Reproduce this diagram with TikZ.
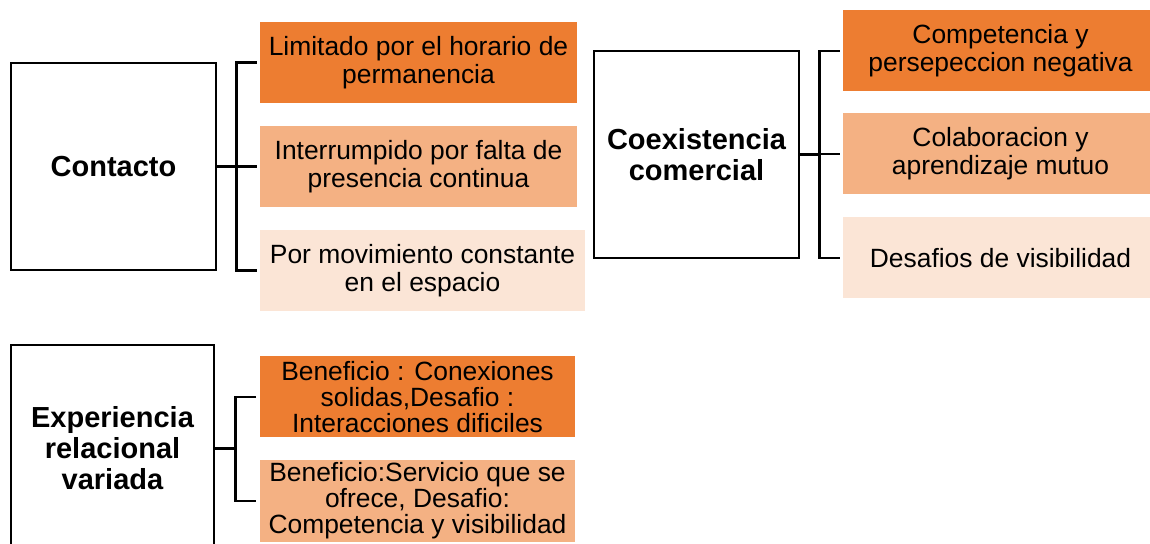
\documentclass[tikz,border=0pt]{standalone}
\usepackage{fontspec}
\setmainfont{Liberation Sans}
\definecolor{accDark}{HTML}{ED7D31}
\definecolor{accMid}{HTML}{F4B183}
\definecolor{accLight}{HTML}{FBE5D6}
\begin{document}
\begin{tikzpicture} [
				x=0.5pt, y=-0.5pt,
				topic/.style={draw,line width=1.2pt,minimum width=102.5pt,minimum height=103.5pt,align=center,inner sep=0pt,font=\fontsize{14.5}{15.5}\selectfont\bfseries},
				item/.style={minimum width=158.5pt,minimum height=40.5pt,align=center,inner sep=0pt,font=\fontsize{13.2}{14}\selectfont},
				dark/.style={item,fill=accDark},
				mid/.style={item,fill=accMid},
				light/.style={item,fill=accLight},
				branch/.style={line width=1.2pt}
			]
			\useasboundingbox (0,0) rectangle (1150,544);
			% Contacto
			\node[topic] (contacto) at (113.5,166.5) {Contacto};
			\node[dark] (c1) at (418.5,62.5) {Limitado por el horario de\\permanencia};
			\node[mid] (c2) at (418.5,166.5) {Interrumpido por falta de\\presencia continua};
			\node[light,minimum width=162.5pt] (c3) at (422.5,270.5) {Por movimiento constante\\en el espacio};
			\draw[branch] (contacto.east) -- ++(21,0);
			\draw[branch] ([xshift=-1.5pt]c1.west) -- ++(-20,0) |- ([xshift=-1.5pt]c3.west);
			\draw[branch] ([xshift=-1.5pt]c2.west) -- ++(-20,0);
			% Coexistencia comercial
			\node[topic] (coexist) at (696.5,154.5) {Coexistencia\\comercial};
			\node[dark,minimum width=157.5pt] (k1) at (1000.5,51) {Competencia y\\persepeccion negativa};
			\node[mid,minimum width=157.5pt] (k2) at (1000.5,154) {Colaboracion y\\aprendizaje mutuo};
			\node[light,minimum width=157.5pt] (k3) at (1000.5,258) {Desafios de visibilidad};
			\draw[branch] (coexist.east) -- ++(21,0);
			\draw[branch] ([xshift=-1.5pt]k1.west) -- ++(-20,0) |- ([xshift=-1.5pt]k3.west);
			\draw[branch] ([xshift=-1.5pt]k2.west) -- ++(-20,0);
			% Experiencia relacional variada
			\node[topic,minimum width=101.5pt] (exper) at (112.5,448.5) {Experiencia\\relacional\\variada};
			\node[dark,minimum width=157.5pt,font=\fontsize{13.2}{13}\selectfont] (e1) at (417.5,397) {Beneficio : Conexiones\\solidas,Desafio :\\Interacciones dificiles};
			\node[mid,minimum width=157.5pt,font=\fontsize{13.2}{13}\selectfont] (e2) at (417.5,501) {Beneficio:Servicio que se\\ofrece, Desafio:\\Competencia y visibilidad};
			\draw[branch] (exper.east) -- ++(22,0);
			\draw[branch] ([xshift=-1.75pt]e1.west) -- ++(-20.5,0) |- ([xshift=-1.75pt]e2.west);
		\end{tikzpicture}
\end{document}
